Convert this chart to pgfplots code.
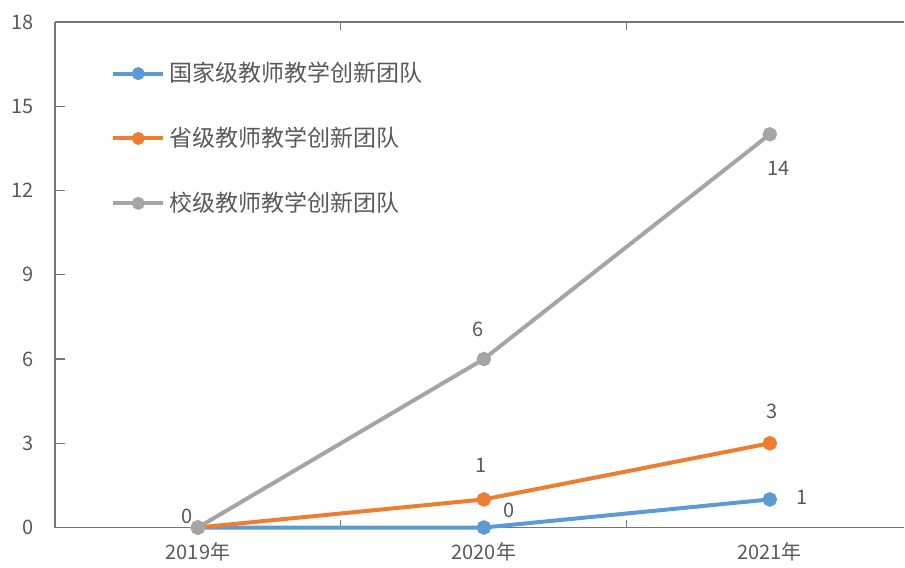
\documentclass[border=0pt]{standalone}
\usepackage{pgfplots}
\pgfplotsset{compat=1.18}
\usepackage{pgfplotstable}
\usepackage{fontspec}
\setmainfont{Noto Sans CJK SC}
\definecolor{cblue}{HTML}{5B9BD5}
\definecolor{corange}{HTML}{ED7D31}
\definecolor{cgray}{HTML}{A5A5A5}
\definecolor{ctext}{HTML}{595959}
\definecolor{caxis}{HTML}{767676}
\pgfplotstableread{
x y lab dx dy
0 0 {} 0 0
1 0 0 12.5 8.5
2 1 1 16 1
}\blue
\pgfplotstableread{
x y lab dx dy
0 0 {} 0 0
1 1 1 -1.5 17
2 3 3 1 16
}\orange
\pgfplotstableread{
x y lab dx dy
0 0 0 -5.5 5.5
1 6 6 -3 15
2 14 14 4.5 -17
}\gray
\begin{document}
\begin{tikzpicture}
\begin{axis}[
  scale only axis,
  width=425pt, height=253pt,
  xmin=-0.5, xmax=2.47,
  ymin=0, ymax=18,
  ytick={0,3,...,18},
  xtick={0,1,2},
  xticklabels={2019年,2020年,2021年},
  minor xtick={0.5,1.5},
  separate axis lines,
  axis x line=box,
  axis y line=left,
  x axis line style={-, draw=caxis, line width=0.8pt},
  y axis line style={-, draw=caxis, line width=0.8pt},
  xtick align=inside,
  ytick align=inside,
  every tick/.style={draw=caxis, line width=0.6pt},
  every major x tick/.append style={draw=none},
  minor tick length=4pt,
  major tick length=5pt,
  tick label style={font=\fontsize{10}{12}\selectfont, text=ctext},
  yticklabel style={xshift=-7pt},
  xticklabel style={yshift=-4pt},
  /pgf/number format/assume math mode=true,
  clip=false,
  legend style={at={(rel axis cs:0,1)}, anchor=north west, xshift=25pt, yshift=-16pt,
    draw=none, fill=none, font=\fontsize{11.5}{13}\selectfont, text=ctext,
    row sep=17.2pt, cells={anchor=west}},
  legend cell align=left,
  legend image code/.code={
    \draw[#1, mark=none] (0pt,0pt) -- (25pt,0pt);
    \fill[#1] (12.5pt,0pt) circle (2.2pt);
  },
  every axis plot/.append style={line width=2pt, mark=*, mark size=2.6pt},
  point meta=explicit symbolic,
  nodes near coords,
  visualization depends on={\thisrow{dx} \as \dx},
  visualization depends on={\thisrow{dy} \as \dy},
  every node near coord/.append style={anchor=center, xshift=\dx pt, yshift=\dy pt,
     font=\fontsize{10}{12}\selectfont, text=ctext},
]
\addplot[color=cblue] table[x=x, y=y, meta=lab] {\blue};
\addlegendentry{国家级教师教学创新团队}
\addplot[color=corange] table[x=x, y=y, meta=lab] {\orange};
\addlegendentry{省级教师教学创新团队}
\addplot[color=cgray] table[x=x, y=y, meta=lab] {\gray};
\addlegendentry{校级教师教学创新团队}
\end{axis}
\path[use as bounding box] (current axis.south west) ++(-27.5pt,-20pt) rectangle ([yshift=11pt]current axis.north east);
\end{tikzpicture}
\end{document}
